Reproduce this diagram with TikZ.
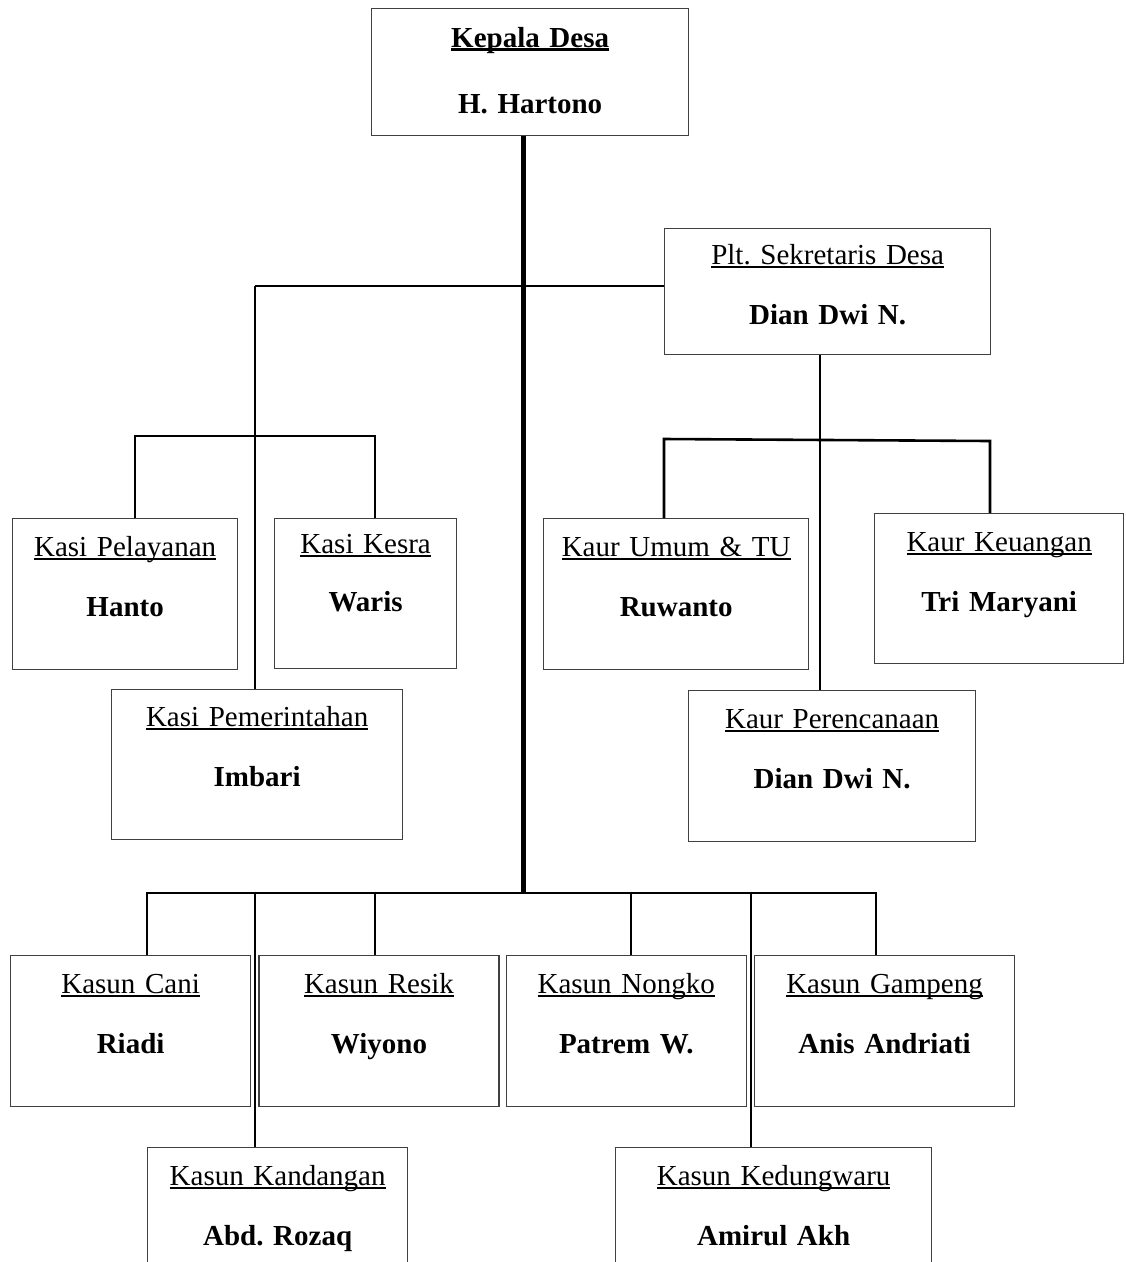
\documentclass[tikz,border=0pt]{standalone}
\usepackage{fontspec}
\setmainfont{Liberation Serif}
\usepackage{tikz}
\usetikzlibrary{positioning}
\frenchspacing
\newcommand{\garisbawah}[2][1.7pt]{\setbox0=\hbox{#2}\rlap{\rule[-3pt]{\wd0}{#1}}\box0}
\tikzstyle{kotak} = [
    rectangle,
    draw=black!75,
    line width=1.3pt,
    inner sep=0pt,
    align=center,
    text height=38pt,
    anchor=north west,
    font=\fontsize{29pt}{60pt}\selectfont
]
\tikzstyle{hubung} = [
    draw=black,
    line width=2.6pt
]
\tikzstyle{batang} = [
    draw=black,
    line width=5pt
]
\begin{document}
\begin{tikzpicture}[x=1pt, y=-1pt]
        \useasboundingbox (0,0) rectangle (1126,1262);
        % Kepala Desa dan Sekretaris
        \node[kotak, text width=317pt, text height=39pt, text depth=88pt] (kades) at (371,8) {\garisbawah[2.2pt]{\textbf{Kepala Desa}}\\[6pt]\textbf{H. Hartono}};
        \node[kotak, text width=326pt, text height=36pt, text depth=90pt] (sekdes) at (664,228) {\garisbawah{Plt. Sekretaris Desa}\\\textbf{Dian Dwi N.}};

        % Kasi
        \node[kotak, text width=225pt, text depth=113pt] (pelayanan) at (12,518) {\garisbawah{Kasi Pelayanan}\\\textbf{Hanto}};
        \node[kotak, text width=182pt, text height=35pt, text depth=115pt] (kesra) at (274,518) {\garisbawah{Kasi Kesra}\\[-2pt]\textbf{Waris}};
        \node[kotak, text width=291pt, text height=37pt, text depth=113pt] (pemerintahan) at (111,689) {\garisbawah{Kasi Pemerintahan}\\\textbf{Imbari}};

        % Kaur
        \node[kotak, text width=265pt, text depth=113pt] (umum) at (543,518) {\garisbawah{Kaur Umum \& TU}\\\textbf{Ruwanto}};
        \node[kotak, text width=249pt, text depth=112pt] (keuangan) at (874,513) {\garisbawah{Kaur Keuangan}\\\textbf{Tri Maryani}};
        \node[kotak, text width=287pt, text depth=113pt] (perencanaan) at (688,690) {\garisbawah{Kaur Perencanaan}\\\textbf{Dian Dwi N.}};

        % Kasun
        \node[kotak, text width=240pt, text depth=113pt] (cani) at (10,955) {\garisbawah{Kasun Cani}\\\textbf{Riadi}};
        \node[kotak, text width=240pt, text depth=113pt, right=7pt of cani] (resik) {\garisbawah{Kasun Resik}\\\textbf{Wiyono}};
        \node[kotak, text width=240pt, text depth=113pt, right=6pt of resik] (nongko) {\garisbawah{Kasun Nongko}\\\textbf{Patrem W.}};
        \node[kotak, text width=260pt, text depth=113pt, right=7pt of nongko] (gampeng) {\garisbawah{Kasun Gampeng}\\\textbf{Anis Andriati}};
        \node[kotak, text width=260pt, text depth=113pt] (kandangan) at (147,1147) {\garisbawah{Kasun Kandangan}\\\textbf{Abd. Rozaq}};
        \node[kotak, text width=316pt, text depth=113pt] (kedungwaru) at (615,1147) {\garisbawah{Kasun Kedungwaru}\\\textbf{Amirul Akh}};

        % garis
        \coordinate (pusat) at (523,893);
        \coordinate (kasibus) at (255,286);
        \coordinate (kasiL) at (135,436);
        \coordinate (kasiR) at (375,436);
        \coordinate (kaurbus) at (820,440);
        \coordinate (kaurL) at (664,439);
        \coordinate (kaurR) at (990,441);
        \coordinate (kasunL) at (147,893);
        \coordinate (kasunR) at (876,893);

        \draw[batang] (pusat |- kades.south) -- (pusat);
        \draw[hubung] (kasibus) -- (sekdes.west |- kasibus);
        \draw[hubung] (kasibus) -- (kasibus |- pemerintahan.north);
        \draw[hubung] (kasiL |- pelayanan.north) -- (kasiL) -- (kasiR) -- (kasiR |- kesra.north);
        \draw[hubung] (kaurbus |- sekdes.south) -- (kaurbus |- perencanaan.north);
        \draw[hubung] (kaurL |- umum.north) -- (kaurL) -- (kaurR) -- (kaurR |- keuangan.north);
        \draw[hubung] (kasunL |- cani.north) -- (kasunL) -- (kasunR) -- (kasunR |- gampeng.north);
        \foreach \x/\nama in {255/kandangan, 375/resik, 631/nongko, 751/kedungwaru}{
            \coordinate (t\nama) at (\x,893);
            \draw[hubung] (t\nama) -- (t\nama |- \nama.north);
        }
    \end{tikzpicture}
\end{document}
